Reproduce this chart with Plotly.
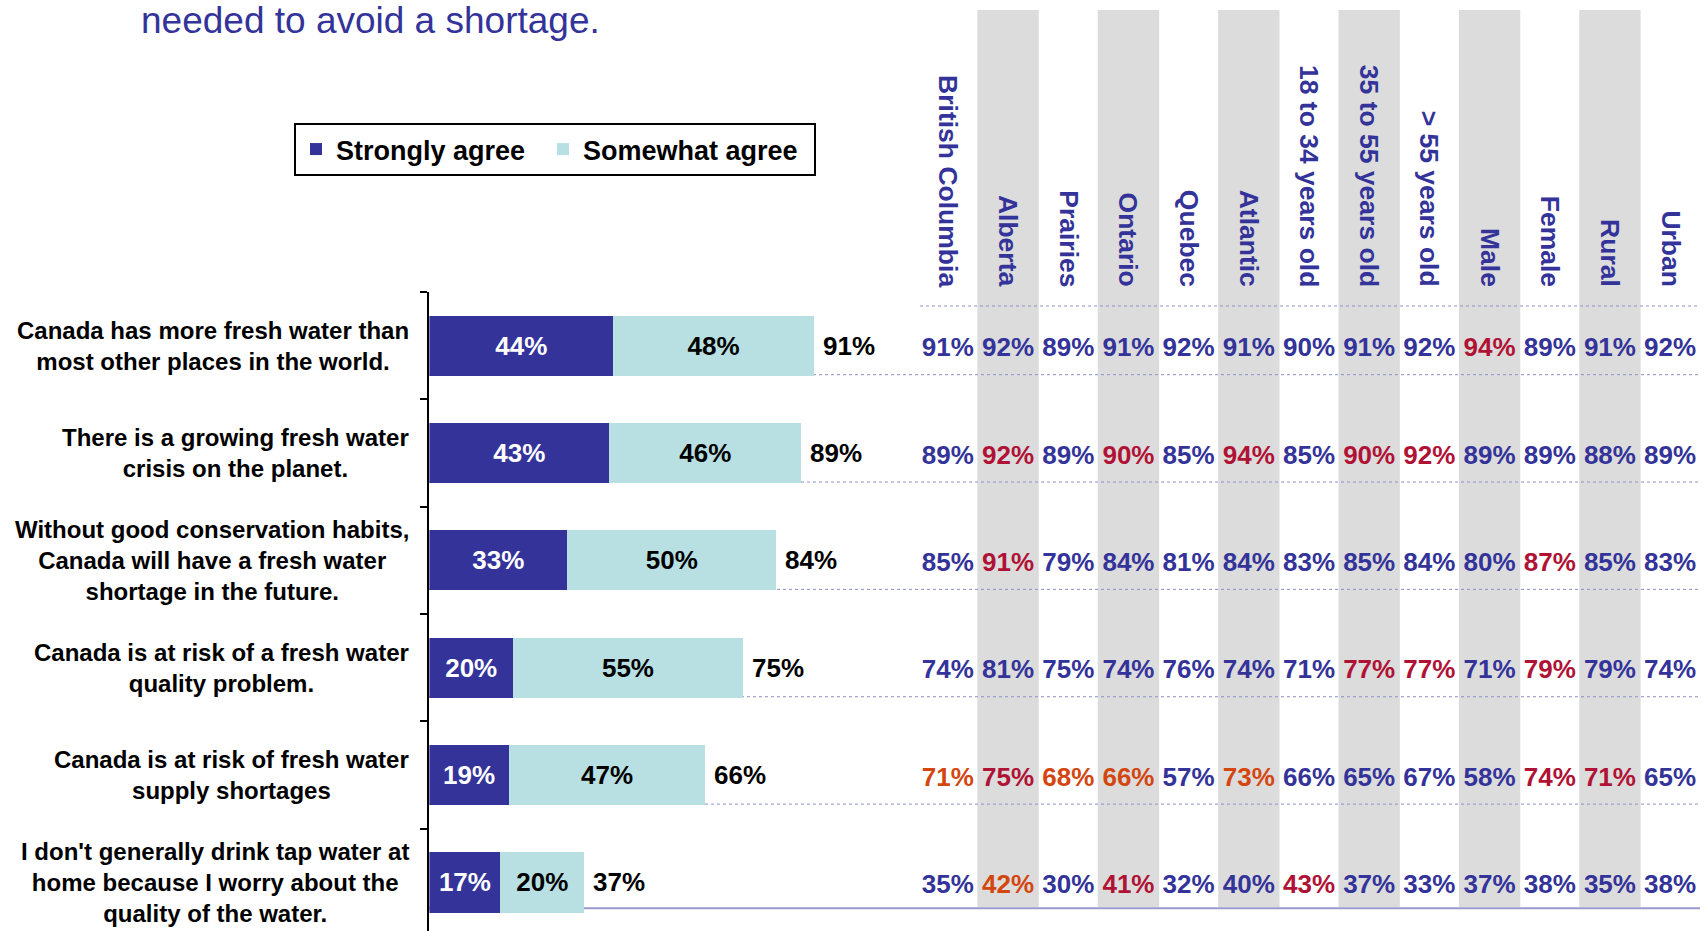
import plotly.graph_objects as go

W, H = 1708, 931

# --- data -------------------------------------------------------------
statements = [
    "Canada has more fresh water than<br>most other places in the world.",
    "There is a growing fresh water<br>crisis on the planet.",
    "Without good conservation habits,<br>Canada will have a fresh water<br>shortage in the future.",
    "Canada is at risk of a fresh water<br>quality problem.",
    "Canada is at risk of fresh water<br>supply shortages",
    "I don't generally drink tap water at<br>home because I worry about the<br>quality of the water.",
]
strongly_agree = [44, 43, 33, 20, 19, 17]
somewhat_agree = [48, 46, 50, 55, 47, 20]
total_agree = [91, 89, 84, 75, 66, 37]

regions = ["British Columbia", "Alberta", "Prairies", "Ontario", "Quebec", "Atlantic",
           "18 to 34 years old", "35 to 55 years old", "> 55 years old",
           "Male", "Female", "Rural", "Urban"]

row1 = [91, 92, 89, 91, 92, 91, 90, 91, 92, 94, 89, 91, 92]
row2 = [89, 92, 89, 90, 85, 94, 85, 90, 92, 89, 89, 88, 89]
row3 = [85, 91, 79, 84, 81, 84, 83, 85, 84, 80, 87, 85, 83]
row4 = [74, 81, 75, 74, 76, 74, 71, 77, 77, 71, 79, 79, 74]
row5 = [71, 75, 68, 66, 57, 73, 66, 65, 67, 58, 74, 71, 65]
row6 = [35, 42, 30, 41, 32, 40, 43, 37, 33, 37, 38, 35, 38]
table_rows = [row1, row2, row3, row4, row5, row6]

# b = normal, r = significantly higher, o = higher
flags = [
    "bbbbbbbbbrbbb",
    "brbrbrbrrbbbb",
    "brbbbbbbbbrbb",
    "bbbbbbbrrbrbb",
    "oroobobbbbrrb",
    "bobrbbrbbbbbb",
]

BLUE = "#333399"
LIGHT = "#B8E0E3"
FLAG_COLORS = {"b": BLUE, "r": "#B01235", "o": "#D44610"}
FONT = "Liberation Sans, Arial, sans-serif"


def px_x(p):
    return p / W


def px_y(p):
    return 1 - p / H


fig = go.Figure()

fig.add_trace(go.Bar(
    y=statements, x=strongly_agree, orientation="h", name="Strongly agree",
    marker=dict(color=BLUE, line=dict(width=0)), width=0.56, legendwidth=202,
    texttemplate="%{x}%", textposition="inside", insidetextanchor="middle",
    textfont=dict(color="white", size=26, family=FONT, weight="bold"),
    hoverinfo="skip",
))
fig.add_trace(go.Bar(
    y=statements, x=somewhat_agree, orientation="h", name="Somewhat agree",
    marker=dict(color=LIGHT, line=dict(width=0)), width=0.56, legendwidth=226,
    texttemplate="%{x}%", textposition="inside", insidetextanchor="middle",
    textfont=dict(color="black", size=26, family=FONT, weight="bold"),
    hoverinfo="skip",
))

# table of sub-group results
tx, ty, tt, tc = [], [], [], []
for r, vals in enumerate(table_rows):
    for c, v in enumerate(vals):
        tx.append(c)
        ty.append(statements[r])
        tt.append(f"{v}%")
        tc.append(FLAG_COLORS[flags[r][c]])
fig.add_trace(go.Scatter(
    x=tx, y=ty, text=tt, mode="text", xaxis="x2", yaxis="y2",
    textposition="middle center",
    textfont=dict(color=tc, size=26, family=FONT, weight="bold"),
    showlegend=False, hoverinfo="skip", cliponaxis=False,
))

annotations = []
# totals at the end of the bars, statement labels on the left
for i, s in enumerate(statements):
    annotations.append(dict(
        x=strongly_agree[i] + somewhat_agree[i], y=s, xref="x", yref="y",
        text=f"{total_agree[i]}%", showarrow=False, xanchor="left", xshift=7,
        font=dict(size=26, color="black", family=FONT, weight="bold"),
    ))
    annotations.append(dict(
        x=px_x(411), y=s, xref="paper", yref="y", text=s, showarrow=False,
        xanchor="right", align="center",
        font=dict(size=24, color="black", family=FONT, weight="bold"),
    ))

for c, name in enumerate(regions):
    annotations.append(dict(
        x=c, y=px_y(289), xref="x2", yref="paper", text=name, textangle=90,
        showarrow=False, xanchor="center", yanchor="bottom",
        font=dict(size=26.5, color=BLUE, family=FONT, weight="bold"),
    ))

annotations.append(dict(
    x=px_x(139), y=px_y(21), xref="paper", yref="paper",
    text="needed to avoid a shortage.", showarrow=False,
    xanchor="left", yanchor="middle",
    font=dict(size=37, color=BLUE, family=FONT),
))

shapes = []
for c in range(1, len(regions), 2):
    shapes.append(dict(
        type="rect", xref="x2", yref="paper", x0=c - 0.51, x1=c + 0.51,
        y0=px_y(907), y1=px_y(10), fillcolor="#DCDCDC", line=dict(width=0),
        layer="below",
    ))
shapes.append(dict(
    type="line", xref="paper", yref="y", x0=px_x(920), x1=px_x(1700),
    y0=-0.37, y1=-0.37, line=dict(color="#8F8FC9", width=1, dash="dot"),
))
for i in range(len(statements) - 1):
    shapes.append(dict(
        type="line", xref="paper", yref="y", x0=px_x(429), x1=px_x(1700),
        y0=i + 0.27, y1=i + 0.27, line=dict(color="#8F8FC9", width=1, dash="dot"),
        layer="below",
    ))
shapes.append(dict(
    type="line", xref="paper", yref="y", x0=px_x(429), x1=px_x(1700),
    y0=5.24, y1=5.24, line=dict(color="#9A9ACC", width=2), layer="below",
))

shift = 0.037  # table numbers sit a little below the bar centres
fig.update_layout(
    width=W, height=H,
    margin=dict(l=0, r=0, t=0, b=0),
    paper_bgcolor="white", plot_bgcolor="rgba(0,0,0,0)",
    barmode="stack",
    font=dict(family=FONT),
    xaxis=dict(domain=[px_x(429.4), px_x(905)], range=[0, (905 - 429.4) / 4.18],
               visible=False, fixedrange=True),
    xaxis2=dict(domain=[px_x(917.8), px_x(1700.2)], range=[-0.5, 12.5],
                anchor="y2", visible=False, fixedrange=True),
    yaxis=dict(domain=[0, px_y(292)], type="category", categoryarray=statements,
               range=[5.452, -0.5], showticklabels=False, showgrid=False,
               showline=True, linecolor="black", linewidth=2,
               ticks="outside", tickson="boundaries", ticklen=7,
               tickcolor="black", tickwidth=2, zeroline=False, fixedrange=True),
    yaxis2=dict(domain=[0, px_y(292)], type="category", categoryarray=statements,
                range=[5.452 - shift, -0.5 - shift], overlaying="y",
                anchor="x2", visible=False, fixedrange=True),
    legend=dict(orientation="h", x=px_x(294), y=px_y(123), xanchor="left",
                yanchor="top", bordercolor="black", borderwidth=2,
                traceorder="normal", itemwidth=30,
                font=dict(size=27, color="black", family=FONT, weight="bold")),
    annotations=annotations,
    shapes=shapes,
    showlegend=True,
)

fig.write_html("out.html", config={"displayModeBar": False},
               post_script="document.body.style.margin='0px';")
